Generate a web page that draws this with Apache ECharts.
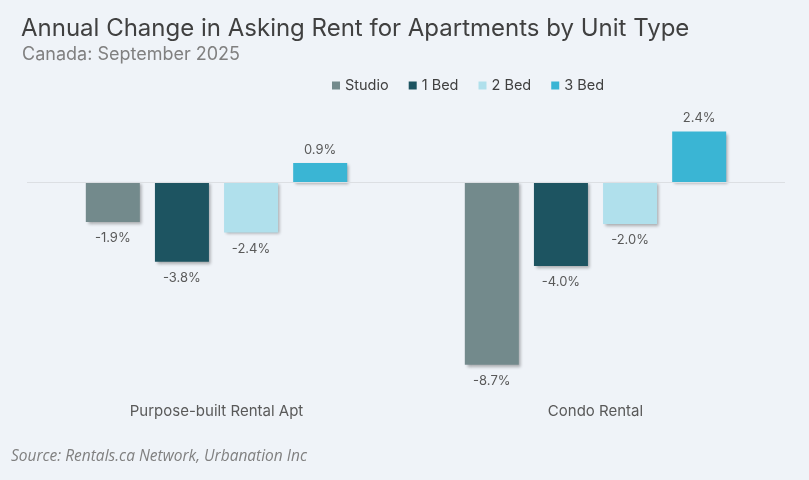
<!DOCTYPE html>
<html><head><meta charset="utf-8">
<script src="https://cdn.jsdelivr.net/npm/echarts@6/dist/echarts.min.js"></script>
<style>html,body{margin:0;padding:0;background:#eff3f8;}#c{width:809px;height:480px;}</style>
</head><body><div id="c"></div>
<script>
const categories = ['Purpose-built Rental Apt', 'Condo Rental'];
const seriesNames = ['Studio', '1 Bed', '2 Bed', '3 Bed'];
const studio = [-1.9, -8.7];
const oneBed = [-3.8, -4.0];
const twoBed = [-2.4, -2.0];
const threeBed = [0.9, 2.4];
const colors = ['#738a8c', '#1d5461', '#b0e0ec', '#3ab5d4'];
const values = [studio, oneBed, twoBed, threeBed];

const chart = echarts.init(document.getElementById('c'));
const series = values.map((vals, i) => ({
  name: seriesNames[i],
  type: 'bar',
  barWidth: 54,
  barGap: '28%',
  itemStyle: { color: colors[i], shadowBlur: 3, shadowOffsetX: 2, shadowOffsetY: 2, shadowColor: 'rgba(0,0,0,0.3)' },
  data: vals.map(v => ({ value: v, label: { position: v < 0 ? 'bottom' : 'top', distance: v < 0 ? 10 : 7 } })),
  label: { show: true, color: '#595959', fontSize: 13, fontFamily: 'Inter', formatter: p => p.value.toFixed(1) + '%' },
  markLine: i === 0 ? { silent: true, symbol: 'none', label: { show: false }, lineStyle: { color: '#dcdfe3', width: 1, type: 'solid' }, data: [{ yAxis: 0 }] } : undefined,
  z: 3
}));

chart.setOption({
  backgroundColor: '#eff3f8',
  animation: false,
  title: [
    { text: 'Annual Change in Asking Rent for Apartments by Unit Type', left: 16, top: 12, textStyle: { fontFamily: 'Inter', fontSize: 24, fontWeight: 'normal', color: '#404040' } },
    { text: 'Canada: September 2025', left: 17, top: 41, textStyle: { fontFamily: 'Inter', fontSize: 18, fontWeight: 'normal', color: '#808080' } },
    { text: 'Source: Rentals.ca Network, Urbanation Inc', left: 6, top: 444, textStyle: { fontFamily: 'Open Sans', fontSize: 15.5, fontStyle: 'italic', fontWeight: 'normal', color: '#808080' } }
  ],
  legend: {
    data: seriesNames, left: 327, top: 73, itemWidth: 8, itemHeight: 8, itemGap: 20, icon: 'rect',
    textStyle: { fontFamily: 'Inter', fontSize: 14.5, color: '#404040' }
  },
  grid: { left: 27, right: 24, top: 119, bottom: 109, containLabel: false },
  xAxis: {
    type: 'category', data: categories,
    axisLine: { show: false, onZero: false }, axisTick: { show: false },
    axisLabel: { margin: 33, fontFamily: 'Inter', fontSize: 15, color: '#595959' }
  },
  yAxis: { type: 'value', min: -9, max: 3, show: false, splitLine: { show: false } },
  series
});
</script></body></html>
